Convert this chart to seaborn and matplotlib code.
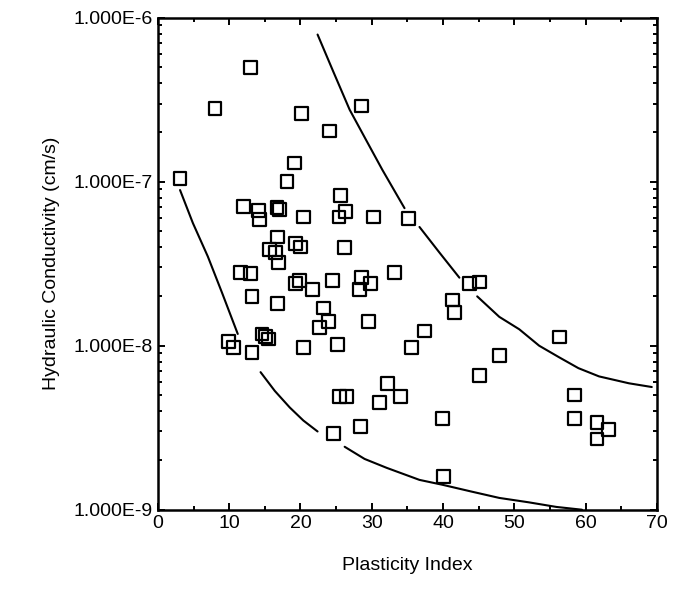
import matplotlib
matplotlib.use('Agg')
import matplotlib.pyplot as plt
import numpy as np
import pandas as pd
import seaborn as sns
from matplotlib.ticker import FixedLocator, LogLocator, MultipleLocator, NullFormatter

# plasticity index / hydraulic conductivity (cm/s)
plasticity = [3.1, 13.0, 8.0, 20.2, 24.1, 28.6, 19.2, 18.1, 12.0, 14.1, 14.3, 16.7, 17.1,
              20.4, 25.6, 26.3, 25.4, 30.3, 35.2, 16.8, 15.7, 16.5, 19.3, 20.0, 26.2, 16.9,
              11.6, 13.0, 19.3, 19.9, 21.7, 24.5, 28.6, 28.3, 29.8, 33.2, 13.2, 16.8, 23.2,
              23.9, 22.7, 29.6, 37.4, 41.3, 41.6, 43.7, 45.1, 9.9, 10.6, 14.6, 15.1, 15.5,
              13.2, 20.4, 25.2, 35.6, 47.9, 56.3, 32.2, 25.5, 26.5, 31.1, 34.0, 45.1, 58.5,
              58.5, 61.6, 63.2, 61.6, 39.9, 28.4, 24.6, 40.1]
conductivity = [1.05e-7, 5.0e-7, 2.8e-7, 2.6e-7, 2.04e-7, 2.9e-7, 1.3e-7, 1.0e-7, 7.1e-8,
                6.7e-8, 5.9e-8, 7.0e-8, 6.8e-8, 6.1e-8, 8.2e-8, 6.6e-8, 6.1e-8, 6.1e-8,
                6.0e-8, 4.6e-8, 3.85e-8, 3.7e-8, 4.2e-8, 4.0e-8, 3.95e-8, 3.2e-8, 2.8e-8,
                2.75e-8, 2.4e-8, 2.5e-8, 2.2e-8, 2.5e-8, 2.6e-8, 2.2e-8, 2.4e-8, 2.8e-8,
                2.0e-8, 1.8e-8, 1.7e-8, 1.4e-8, 1.29e-8, 1.4e-8, 1.23e-8, 1.9e-8, 1.6e-8,
                2.4e-8, 2.45e-8, 1.06e-8, 9.8e-9, 1.18e-8, 1.14e-8, 1.1e-8, 9.1e-9, 9.8e-9,
                1.02e-8, 9.8e-9, 8.7e-9, 1.13e-8, 5.9e-9, 4.9e-9, 4.9e-9, 4.5e-9, 4.9e-9,
                6.6e-9, 5.0e-9, 3.6e-9, 3.4e-9, 3.1e-9, 2.7e-9, 3.6e-9, 3.2e-9, 2.9e-9, 1.6e-9]

# envelope curves, drawn in broken pieces like the original
upper_x = [[22.4, 24.6, 26.9, 29.2, 31.5, 34.6],
           [36.7, 39.5, 42.3],
           [44.8, 47.9, 50.7, 53.5, 56.3, 59.0, 61.9, 66.1, 69.3]]
upper_y = [[7.9e-7, 4.7e-7, 2.75e-7, 1.8e-7, 1.18e-7, 6.9e-8],
           [5.3e-8, 3.7e-8, 2.6e-8],
           [2.0e-8, 1.5e-8, 1.26e-8, 1.0e-8, 8.5e-9, 7.3e-9, 6.5e-9, 5.9e-9, 5.6e-9]]
lower_x = [[3.1, 4.9, 7.0, 9.0, 11.2],
           [14.4, 16.4, 18.5, 20.4, 22.4],
           [26.2, 29.0, 32.1, 36.7, 39.9, 44.0, 47.9, 52.0, 55.9, 59.5]]
lower_y = [[8.9e-8, 5.6e-8, 3.5e-8, 2.1e-8, 1.18e-8],
           [6.9e-9, 5.3e-9, 4.2e-9, 3.5e-9, 3.0e-9],
           [2.42e-9, 2.04e-9, 1.8e-9, 1.52e-9, 1.42e-9, 1.29e-9, 1.18e-9, 1.11e-9,
            1.04e-9, 1.0e-9]]

xticks = [0, 10, 20, 30, 40, 50, 60, 70]
yticks = [1e-9, 1e-8, 1e-7, 1e-6]
ytick_labels = ['1.000E-9', '1.000E-8', '1.000E-7', '1.000E-6']

sns.set_style('ticks')
plt.rcParams['font.family'] = ['Liberation Sans', 'DejaVu Sans']
plt.rcParams['text.color'] = 'black'
plt.rcParams['axes.labelcolor'] = 'black'

fig = plt.figure(figsize=(6.75, 5.92), dpi=100)
ax = fig.add_axes([0.234, 0.139, 0.739, 0.831])

df = pd.DataFrame({'pi': plasticity, 'k': conductivity})
sns.scatterplot(data=df, x='pi', y='k', ax=ax, marker='s', s=85,
                facecolor='none', edgecolor='black', linewidth=1.6, zorder=3)

for xs, ys in zip(upper_x + lower_x, upper_y + lower_y):
    sns.lineplot(x=xs, y=ys, ax=ax, color='black', linewidth=1.5,
                 sort=False, estimator=None)

ax.set_yscale('log')
ax.set_xlim(0, 70)
ax.set_ylim(1e-9, 1e-6)

ax.xaxis.set_major_locator(FixedLocator(xticks))
ax.xaxis.set_minor_locator(MultipleLocator(5))
ax.yaxis.set_major_locator(FixedLocator(yticks))
ax.yaxis.set_minor_locator(LogLocator(base=10, subs=np.arange(2, 10)))
ax.yaxis.set_minor_formatter(NullFormatter())
ax.set_yticklabels(ytick_labels)

ax.tick_params(which='both', direction='in', top=True, right=True, width=1.4,
               labelsize=14, colors='black')
ax.tick_params(which='major', length=5)
ax.tick_params(which='minor', length=3)
for sp in ax.spines.values():
    sp.set_linewidth(1.8)
    sp.set_color('black')

ax.set_xlabel('Plasticity Index', fontsize=14, labelpad=18, color='black')
ax.set_ylabel('Hydraulic Conductivity (cm/s)', fontsize=14, labelpad=10, color='black')

fig.savefig('out.png', dpi=100)
